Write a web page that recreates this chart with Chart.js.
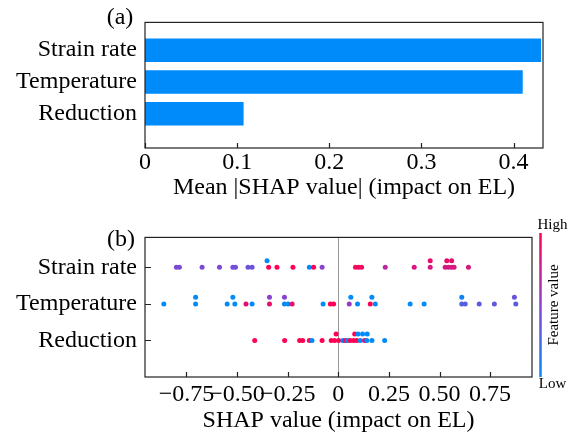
<!DOCTYPE html>
<html>
<head>
<meta charset="utf-8">
<script src="https://cdn.jsdelivr.net/npm/chart.js@4.4.0/dist/chart.umd.min.js"></script>
<style>
  html, body { margin: 0; padding: 0; background: #fff; overflow: hidden; width: 574px; height: 432px; }
  #wrap { position: relative; width: 574px; height: 432px; }
  canvas { position: absolute; left: 0; }
  #c1 { top: 0; width: 574px; height: 230px; }
  #c2 { top: 215px; width: 574px; height: 240px; }
</style>
</head>
<body>
<div id="wrap">
  <canvas id="c1" width="574" height="230"></canvas>
  <canvas id="c2" width="574" height="240"></canvas>
</div>
<script>
const features = ["Strain rate", "Temperature", "Reduction"];
const rowPos = [2, 1, 0];
const meanAbsShap = [0.430, 0.410, 0.107];

const barTicks = [0, 0.1, 0.2, 0.3, 0.4];
const barTickLabels = ["0", "0.1", "0.2", "0.3", "0.4"];
const shapTicks = [-0.75, -0.5, -0.25, 0, 0.25, 0.5, 0.75];
const shapTickLabels = ["\u22120.75", "\u22120.50", "\u22120.25", "0", "0.25", "0.50", "0.75"];

// beeswarm points: shap value, feature value (0 = low, 1 = high), stack level
const strainShap = [-0.800, -0.785, -0.673, -0.587, -0.521, -0.508, -0.446, -0.426, -0.352, -0.344, -0.303, -0.224, -0.143, -0.122, -0.080, 0.085, 0.100, 0.115, 0.232, 0.375, 0.454, 0.454, 0.528, 0.536, 0.544, 0.560, 0.560, 0.572, 0.643];
const strainFeat = [0.45, 0.45, 0.45, 0.45, 0.42, 0.42, 0.40, 0.40, 0.0, 1.0, 1.0, 1.0, 0.0, 1.0, 0.5, 0.95, 0.95, 0.95, 0.7, 0.82, 0.82, 0.9, 0.82, 0.9, 0.82, 0.9, 0.82, 0.82, 0.82];
const strainLevel = [0, 0, 0, 0, 0, 0, 0, 0, 1, 0, 0, 0, 0, 0, 0, 0, 0, 0, 0, 0, 0, 1, 0, 1, 0, 1, 0, 0, 0];

const tempShap = [-0.862, -0.705, -0.705, -0.549, -0.521, -0.511, -0.456, -0.426, -0.340, -0.340, -0.266, -0.266, -0.248, -0.228, -0.075, -0.039, -0.023, 0.054, 0.062, 0.095, 0.158, 0.166, 0.183, 0.355, 0.424, 0.610, 0.610, 0.627, 0.696, 0.771, 0.870, 0.877];
const tempFeat = [0, 0, 0, 0, 0, 0, 0.9, 0, 0.5, 0.9, 0.5, 0, 0, 0.9, 0, 1, 1, 0.55, 0, 0, 1, 0, 0, 0, 0, 0.05, 0.3, 0.3, 0.35, 0.35, 0.38, 0.32];
const tempLevel = [0, 1, 0, 0, 1, 0, 0, 0, 1, 0, 1, 0, 0, 0, 0, 0, 0, 0, 1, 0, 0, 1, 0, 0, 0, 1, 0, 0, 0, 0, 1, 0];

const redShap = [-0.413, -0.265, -0.191, -0.176, -0.143, -0.130, -0.080, -0.035, -0.018, -0.011, 0.002, 0.023, 0.035, 0.046, 0.059, 0.076, 0.081, 0.092, 0.097, 0.109, 0.120, 0.130, 0.141, 0.143, 0.166, 0.229];
const redFeat = [1, 1, 1, 1, 1, 0, 1, 1, 1, 1, 1, 0, 1, 0, 1, 1, 1, 1, 0, 0, 0, 0.9, 0, 0, 0, 0];
const redLevel = [0, 0, 0, 0, 0, 0, 0, 0, 0, 1, 0, 0, 0, 0, 0, 0, 1, 0, 1, 0, 1, 0, 0, 1, 0, 0];

const FONT = "'Liberation Serif', 'Times New Roman', serif";
const LOW = [0, 139, 251], MID = [138, 66, 208], HIGH = [255, 0, 82];

function shapColor(t) {
  const a = t < 0.5 ? LOW : MID;
  const b = t < 0.5 ? MID : HIGH;
  const f = t < 0.5 ? t / 0.5 : (t - 0.5) / 0.5;
  const c = a.map((v, i) => Math.round(v + (b[i] - v) * f));
  return "rgb(" + c.join(",") + ")";
}

const frame = {
  id: "frame",
  beforeDatasetsDraw(chart, args, opts) {
    if (!opts.zeroLine) return;
    const { ctx, chartArea: a } = chart;
    const x0 = Math.round(chart.scales.x.getPixelForValue(0)) + 0.5;
    ctx.save();
    ctx.strokeStyle = "#999";
    ctx.lineWidth = 1;
    ctx.beginPath();
    ctx.moveTo(x0, a.top);
    ctx.lineTo(x0, a.bottom);
    ctx.stroke();
    ctx.restore();
  },
  afterDraw(chart, args, opts) {
    const { ctx, chartArea: a } = chart;
    ctx.save();
    ctx.strokeStyle = "#222";
    ctx.lineWidth = 1.2;
    ctx.strokeRect(a.left, a.top, a.right - a.left, a.bottom - a.top);
    ctx.beginPath();
    const xs = chart.scales.x;
    xs.ticks.forEach(t => {
      const px = Math.round(xs.getPixelForValue(t.value)) + 0.5;
      ctx.moveTo(px, a.bottom);
      ctx.lineTo(px, a.bottom - 5);
    });
    if (opts.yTicks) {
      const ys = chart.scales.y;
      ys.ticks.forEach(t => {
        const py = Math.round(ys.getPixelForValue(t.value)) + 0.5;
        ctx.moveTo(a.left, py);
        ctx.lineTo(a.left + 6, py);
      });
    }
    ctx.stroke();

    ctx.fillStyle = "#000";
    ctx.font = "24px " + FONT;
    ctx.textAlign = "center";
    ctx.textBaseline = "middle";
    ctx.fillText(opts.label, opts.labelX, opts.labelY);

    if (opts.colorbar) {
      const cb = opts.colorbar;
      const g = ctx.createLinearGradient(0, cb.top, 0, cb.bottom);
      g.addColorStop(0, shapColor(1));
      g.addColorStop(0.5, shapColor(0.5));
      g.addColorStop(1, shapColor(0));
      ctx.strokeStyle = g;
      ctx.lineWidth = 2.5;
      ctx.beginPath();
      ctx.moveTo(cb.x, cb.top);
      ctx.lineTo(cb.x, cb.bottom);
      ctx.stroke();
      ctx.font = "15px " + FONT;
      ctx.fillText("High", cb.x + 12, cb.top - 8);
      ctx.fillText("Low", cb.x + 12, cb.bottom + 7);
      ctx.translate(cb.x + 14, (cb.top + cb.bottom) / 2);
      ctx.rotate(-Math.PI / 2);
      ctx.fillText("Feature value", 0, 0);
    }
    ctx.restore();
  }
};

const tickFont = { family: FONT, size: 24 };
const xTickFont = { family: FONT, size: 24, lineHeight: 1 };

new Chart(document.getElementById("c1"), {
  type: "bar",
  data: {
    datasets: [{
      data: features.map((f, i) => ({ x: meanAbsShap[i], y: rowPos[i] })),
      backgroundColor: "#008bfb",
      barPercentage: 0.74,
      categoryPercentage: 1
    }]
  },
  options: {
    indexAxis: "y",
    responsive: false,
    animation: false,
    layout: { padding: { top: 22, right: 31, left: 0, bottom: 0 } },
    plugins: {
      legend: { display: false },
      tooltip: { enabled: false },
      frame: { label: "(a)", labelX: 120, labelY: 18 }
    },
    scales: {
      x: {
        type: "linear", min: 0, max: 0.432,
        grid: { display: false, drawTicks: false }, border: { display: false },
        afterBuildTicks: s => { s.ticks = barTicks.map(v => ({ value: v })); },
        afterFit: s => { s.height = 82; },
        ticks: { padding: 3, color: "#000", font: xTickFont, maxRotation: 0, autoSkip: false,
                 callback: (v, i) => barTickLabels[i] },
        title: { display: true, text: "Mean |SHAP value| (impact on EL)", color: "#000",
                 font: tickFont, padding: { top: 0, bottom: 28 } }
      },
      y: {
        type: "linear", min: -1.08, max: 2.875, offset: false,
        grid: { display: false, drawTicks: false }, border: { display: false },
        afterBuildTicks: s => { s.ticks = rowPos.map(v => ({ value: v })); },
        afterFit: s => { s.width = 145; },
        ticks: { padding: 8, color: "#000", font: tickFont, autoSkip: false,
                 callback: v => features[rowPos.indexOf(v)] }
      }
    }
  },
  plugins: [frame]
});

const rows = [
  { shap: strainShap, feat: strainFeat, level: strainLevel, pos: 2 },
  { shap: tempShap, feat: tempFeat, level: tempLevel, pos: 1 },
  { shap: redShap, feat: redFeat, level: redLevel, pos: 0 }
];

new Chart(document.getElementById("c2"), {
  type: "scatter",
  data: {
    datasets: rows.map(r => ({
      data: r.shap.map((v, i) => ({ x: v, y: r.pos + r.level[i] * 0.18 })),
      backgroundColor: r.feat.map(shapColor),
      pointRadius: 2.5,
      pointBorderWidth: 0
    }))
  },
  options: {
    responsive: false,
    animation: false,
    layout: { padding: { top: 22, right: 42, left: 0, bottom: 0 } },
    plugins: {
      legend: { display: false },
      tooltip: { enabled: false },
      frame: { label: "(b)", labelX: 121, labelY: 25, yTicks: true, zeroLine: true,
               colorbar: { x: 540.5, top: 18, bottom: 162 } }
    },
    scales: {
      x: {
        type: "linear", min: -0.955, max: 0.957,
        grid: { display: false, drawTicks: false }, border: { display: false },
        afterBuildTicks: s => { s.ticks = shapTicks.map(v => ({ value: v })); },
        afterFit: s => { s.height = 78; },
        ticks: { padding: 6, color: "#000", font: xTickFont, maxRotation: 0, autoSkip: false,
                 callback: (v, i) => shapTickLabels[i] },
        title: { display: true, text: "SHAP value (impact on EL)", color: "#000",
                 font: tickFont, padding: { top: 0, bottom: 20 } }
      },
      y: {
        type: "linear", min: -1, max: 2.82,
        grid: { display: false, drawTicks: false }, border: { display: false },
        afterBuildTicks: s => { s.ticks = rowPos.map(v => ({ value: v })); },
        afterFit: s => { s.width = 145; },
        ticks: { padding: 8, color: "#000", font: tickFont, autoSkip: false,
                 callback: v => features[rowPos.indexOf(v)] }
      }
    }
  },
  plugins: [frame]
});
</script>
</body>
</html>
